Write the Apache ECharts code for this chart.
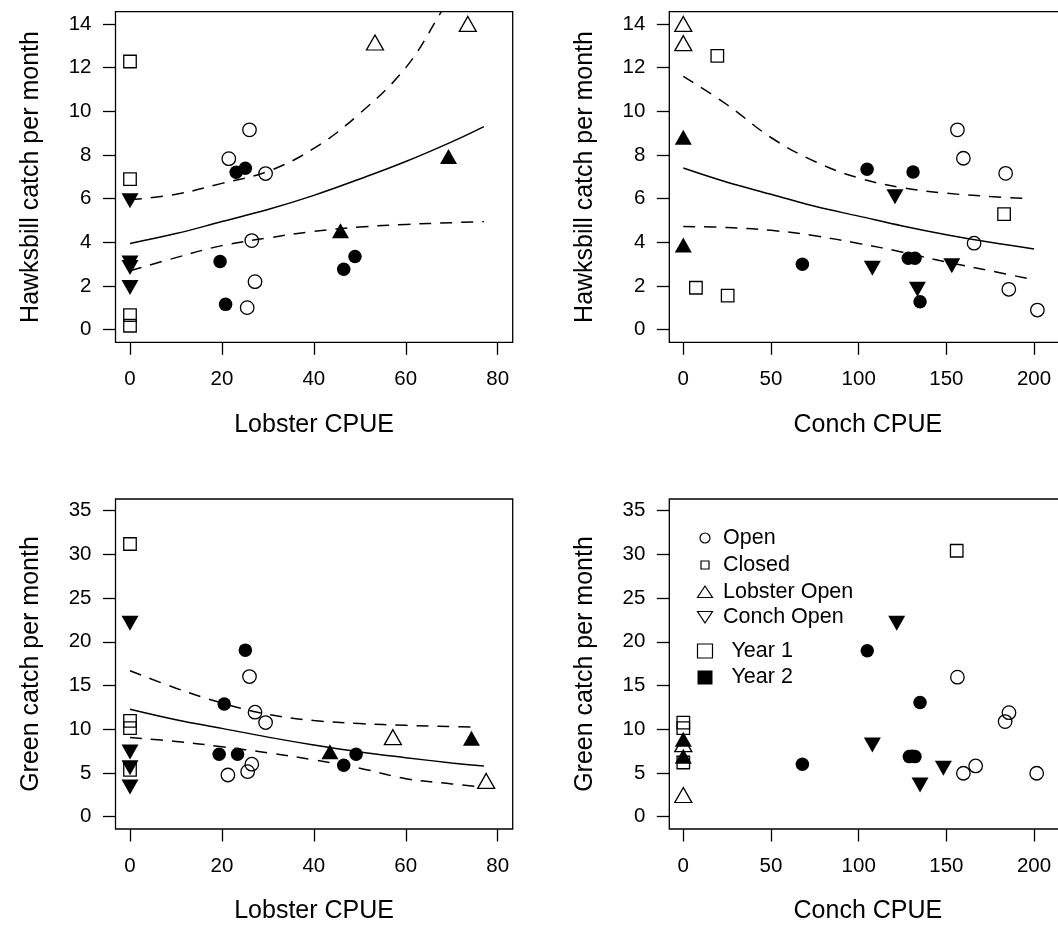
<!DOCTYPE html>
<html>
<head>
<meta charset="utf-8">
<script src="https://cdn.jsdelivr.net/npm/echarts@6/dist/echarts.min.js"></script>
<style>
  html, body { margin: 0; padding: 0; background: #fff; }
  #chart { width: 1058px; height: 936px; }
</style>
</head>
<body>
<div id="chart"></div>
<script>
// tick labels
const lobsterTicks = [0, 20, 40, 60, 80];
const conchTicks = [0, 50, 100, 150, 200];
const hawksbillTicks = [0, 2, 4, 6, 8, 10, 12, 14];
const greenTicks = [0, 5, 10, 15, 20, 25, 30, 35];

// panel 1: Lobster CPUE vs Hawksbill catch  [x, y]
const hawkLob_open1 = [[26.0, 9.15], [21.5, 7.83], [29.5, 7.15], [26.5, 4.08], [27.2, 2.2], [25.5, 1.01]];
const hawkLob_open2 = [[23.1, 7.21], [25.1, 7.39], [19.6, 3.12], [48.95, 3.35], [46.5, 2.77], [20.8, 1.16]];
const hawkLob_closed1 = [[0, 12.28], [0, 6.89], [0, 0.67], [0, 0.18]];
const hawkLob_lobOpen1 = [[53.3, 13.15], [73.5, 14.0]];
const hawkLob_lobOpen2 = [[69.3, 7.93], [45.8, 4.53]];
const hawkLob_conchOpen2 = [[0, 5.9], [0, 3.05], [0, 2.85], [0, 1.93]];
const hawkLob_fit = [[0, 3.95], [10, 4.4], [20, 4.95], [30, 5.5], [40, 6.15], [50, 6.9], [60, 7.7], [70, 8.6], [77, 9.3]];
const hawkLob_hi = [[0, 5.95], [10, 6.2], [20, 6.7], [30, 7.25], [40, 8.3], [50, 9.9], [60, 12.0], [67, 14.3], [70, 15.5]];
const hawkLob_lo = [[0, 2.7], [10, 3.3], [20, 3.85], [30, 4.2], [40, 4.5], [50, 4.7], [60, 4.82], [70, 4.9], [77, 4.95]];

// panel 2: Conch CPUE vs Hawksbill catch
const hawkCon_open1 = [[156.3, 9.15], [159.7, 7.85], [183.8, 7.16], [165.8, 3.96], [185.6, 1.85], [201.9, 0.9]];
const hawkCon_open2 = [[104.8, 7.35], [131, 7.22], [67.9, 3.0], [128.3, 3.27], [132.1, 3.27], [135, 1.28]];
const hawkCon_closed1 = [[19.4, 12.54], [182.9, 5.29], [7.2, 1.92], [25.3, 1.56]];
const hawkCon_lobOpen1 = [[0, 14.0], [0, 13.12]];
const hawkCon_lobOpen2 = [[0, 8.81], [0, 3.88]];
const hawkCon_conchOpen2 = [[120.7, 6.09], [107.8, 2.81], [153.1, 2.93], [133.5, 1.85]];
const hawkCon_fit = [[0, 7.4], [25, 6.75], [50, 6.2], [75, 5.65], [100, 5.2], [125, 4.75], [150, 4.35], [175, 4.0], [200, 3.7]];
const hawkCon_hi = [[0, 11.6], [25, 10.3], [50, 8.8], [75, 7.7], [100, 6.95], [125, 6.5], [150, 6.25], [175, 6.1], [197, 6.0]];
const hawkCon_lo = [[0, 4.72], [25, 4.68], [50, 4.55], [75, 4.3], [100, 3.95], [125, 3.55], [150, 3.1], [175, 2.7], [200, 2.28]];

// panel 3: Lobster CPUE vs Green catch
const greenLob_open1 = [[26.0, 16.03], [27.2, 11.95], [29.5, 10.77], [26.5, 6.0], [25.6, 5.15], [21.3, 4.77]];
const greenLob_open2 = [[25.1, 19.05], [20.5, 12.9], [19.4, 7.14], [23.4, 7.14], [49.2, 7.14], [46.5, 5.88]];
const greenLob_closed1 = [[0, 31.19], [0, 10.96], [0, 10.12], [0, 5.35]];
const greenLob_lobOpen1 = [[57.2, 9.09], [77.5, 4.09]];
const greenLob_lobOpen2 = [[43.5, 7.44], [74.3, 8.97]];
const greenLob_conchOpen2 = [[0, 22.14], [0, 7.4], [0, 5.6], [0, 3.4]];
const greenLob_fit = [[0, 12.3], [10, 11.1], [20, 10.1], [30, 9.1], [40, 8.2], [50, 7.4], [60, 6.75], [70, 6.15], [77, 5.8]];
const greenLob_hi = [[0, 16.7], [10, 14.7], [20, 13.0], [30, 11.7], [40, 11.0], [50, 10.65], [60, 10.45], [70, 10.3], [76, 10.25]];
const greenLob_lo = [[0, 9.05], [10, 8.6], [20, 8.0], [30, 7.3], [40, 6.5], [50, 5.55], [60, 4.35], [70, 3.75], [76, 3.43]];

// panel 4: Conch CPUE vs Green catch (no fitted lines)
const greenCon_open1 = [[156.3, 15.96], [185.7, 11.9], [183.5, 10.88], [159.7, 4.97], [166.7, 5.8], [201.5, 4.97]];
const greenCon_open2 = [[104.9, 18.97], [135, 13.05], [67.9, 6.0], [128.9, 6.87], [130.5, 6.9], [132.1, 6.87]];
const greenCon_closed1 = [[155.9, 30.42], [0, 10.77], [0, 10.12], [0, 6.2]];
const greenCon_lobOpen1 = [[0, 2.48], [0, 8.3]];
const greenCon_lobOpen2 = [[0, 8.86], [0, 6.9]];
const greenCon_conchOpen2 = [[121.7, 22.14], [107.8, 8.21], [148.3, 5.54], [135, 3.63]];

const FONT = '"Liberation Sans", Arial, Helvetica, sans-serif';

const shapes = {
  open: { symbol: 'circle', size: 13.5, rotate: 0 },
  closed: { symbol: 'rect', size: 12.5, rotate: 0 },
  lobOpen: { symbol: 'triangle', size: [17, 15], rotate: 0 },
  conchOpen: { symbol: 'triangle', size: [17, 15], rotate: 180 }
};

function points(idx, kind, year, data) {
  const s = shapes[kind];
  return {
    type: 'scatter', xAxisIndex: idx, yAxisIndex: idx, data: data,
    symbol: s.symbol, symbolSize: s.size, symbolRotate: s.rotate,
    itemStyle: year === 1
      ? { color: 'rgba(0,0,0,0)', borderColor: '#000', borderWidth: 1.3, opacity: 1 }
      : { color: '#000', borderWidth: 0, opacity: 1 },
    emphasis: { disabled: true }, z: 3
  };
}

function curve(idx, data, dashed) {
  return {
    type: 'line', xAxisIndex: idx, yAxisIndex: idx, data: data,
    symbol: 'none', smooth: 0.4, clip: true,
    lineStyle: { color: '#000', width: 1.5, type: dashed ? [12, 9] : 'solid', opacity: 1 },
    emphasis: { disabled: true }, z: 2
  };
}

function xAx(idx, min, max, ticks, name) {
  return {
    type: 'value', gridIndex: idx, min: min, max: max,
    name: name, nameLocation: 'middle', nameGap: 70,
    nameTextStyle: { fontSize: 25, color: '#000', fontFamily: FONT },
    axisLine: { show: false, onZero: false }, splitLine: { show: false },
    axisTick: { show: true, inside: false, length: 12.5, customValues: ticks, lineStyle: { color: '#000', width: 1.3 } },
    axisLabel: { customValues: ticks, margin: 27, fontSize: 20.5, color: '#000', fontFamily: FONT }
  };
}

function yAx(idx, min, max, ticks, name) {
  return {
    type: 'value', gridIndex: idx, min: min, max: max,
    name: name, nameLocation: 'middle', nameGap: 72, nameRotate: 90,
    nameTextStyle: { fontSize: 25, color: '#000', fontFamily: FONT },
    axisLine: { show: false, onZero: false }, splitLine: { show: false },
    axisTick: { show: true, inside: false, length: 12.5, customValues: ticks, lineStyle: { color: '#000', width: 1.3 } },
    axisLabel: { customValues: ticks, margin: 24, fontSize: 20.5, color: '#000', fontFamily: FONT }
  };
}

const box = { show: true, borderColor: '#000', borderWidth: 1.3, backgroundColor: 'transparent', outerBoundsMode: 'none' };

function legendItems() {
  const items = [];
  const tx = 723, size = 21.5;
  const rows = [
    { y: 538, label: 'Open' }, { y: 565, label: 'Closed' },
    { y: 592, label: 'Lobster Open' }, { y: 617, label: 'Conch Open' }
  ];
  const st = { fill: 'none', stroke: '#000', lineWidth: 1.2 };
  items.push({ type: 'circle', shape: { cx: 705, cy: rows[0].y, r: 5 }, style: st });
  items.push({ type: 'rect', shape: { x: 701, y: rows[1].y - 4, width: 8, height: 8 }, style: st });
  items.push({ type: 'polygon', shape: { points: [[705, rows[2].y - 6], [697.5, rows[2].y + 5.5], [712.5, rows[2].y + 5.5]] }, style: st });
  items.push({ type: 'polygon', shape: { points: [[705, rows[3].y + 6], [697.5, rows[3].y - 5.5], [712.5, rows[3].y - 5.5]] }, style: st });
  rows.forEach(r => items.push({
    type: 'text', x: tx, y: r.y,
    style: { text: r.label, fontSize: size, fontFamily: FONT, fill: '#000', verticalAlign: 'middle' }
  }));
  items.push({ type: 'rect', shape: { x: 697.5, y: 644, width: 15, height: 14 }, style: st });
  items.push({ type: 'rect', shape: { x: 697.5, y: 670.5, width: 15, height: 14 }, style: { fill: '#000' } });
  items.push({ type: 'text', x: 731.5, y: 651, style: { text: 'Year 1', fontSize: size, fontFamily: FONT, fill: '#000', verticalAlign: 'middle' } });
  items.push({ type: 'text', x: 731.5, y: 677.5, style: { text: 'Year 2', fontSize: size, fontFamily: FONT, fill: '#000', verticalAlign: 'middle' } });
  return items;
}

const panels = [
  [hawkLob_open1, hawkLob_open2, hawkLob_closed1, hawkLob_lobOpen1, hawkLob_lobOpen2, hawkLob_conchOpen2],
  [hawkCon_open1, hawkCon_open2, hawkCon_closed1, hawkCon_lobOpen1, hawkCon_lobOpen2, hawkCon_conchOpen2],
  [greenLob_open1, greenLob_open2, greenLob_closed1, greenLob_lobOpen1, greenLob_lobOpen2, greenLob_conchOpen2],
  [greenCon_open1, greenCon_open2, greenCon_closed1, greenCon_lobOpen1, greenCon_lobOpen2, greenCon_conchOpen2]
];

const series = [];
panels.forEach((p, i) => {
  series.push(points(i, 'closed', 1, p[2]));
  series.push(points(i, 'lobOpen', 1, p[3]));
  series.push(points(i, 'open', 1, p[0]));
  series.push(points(i, 'open', 2, p[1]));
  series.push(points(i, 'lobOpen', 2, p[4]));
  series.push(points(i, 'conchOpen', 2, p[5]));
});
series.push(curve(0, hawkLob_fit, false), curve(0, hawkLob_hi, true), curve(0, hawkLob_lo, true));
series.push(curve(1, hawkCon_fit, false), curve(1, hawkCon_hi, true), curve(1, hawkCon_lo, true));
series.push(curve(2, greenLob_fit, false), curve(2, greenLob_hi, true), curve(2, greenLob_lo, true));

const option = {
  animation: false,
  backgroundColor: '#fff',
  grid: [
    Object.assign({ left: 115.5, top: 11.7, width: 397.2, height: 330.6 }, box),
    Object.assign({ left: 669.3, top: 11.7, width: 397.2, height: 330.6 }, box),
    Object.assign({ left: 115.5, top: 499, width: 397.2, height: 330 }, box),
    Object.assign({ left: 669.3, top: 499, width: 397.2, height: 330 }, box)
  ],
  xAxis: [
    xAx(0, -3.155, 83.27, lobsterTicks, 'Lobster CPUE'),
    xAx(1, -7.98, 218.5, conchTicks, 'Conch CPUE'),
    xAx(2, -3.155, 83.27, lobsterTicks, 'Lobster CPUE'),
    xAx(3, -7.98, 218.5, conchTicks, 'Conch CPUE')
  ],
  yAxis: [
    yAx(0, -0.577, 14.56, hawksbillTicks, 'Hawksbill catch per month'),
    yAx(1, -0.577, 14.56, hawksbillTicks, 'Hawksbill catch per month'),
    yAx(2, -1.41, 36.34, greenTicks, 'Green catch per month'),
    yAx(3, -1.41, 36.34, greenTicks, 'Green catch per month')
  ],
  series: series,
  graphic: legendItems()
};

const chart = echarts.init(document.getElementById('chart'));
chart.setOption(option);
window.addEventListener('resize', function () { chart.resize(); });
</script>
</body>
</html>
